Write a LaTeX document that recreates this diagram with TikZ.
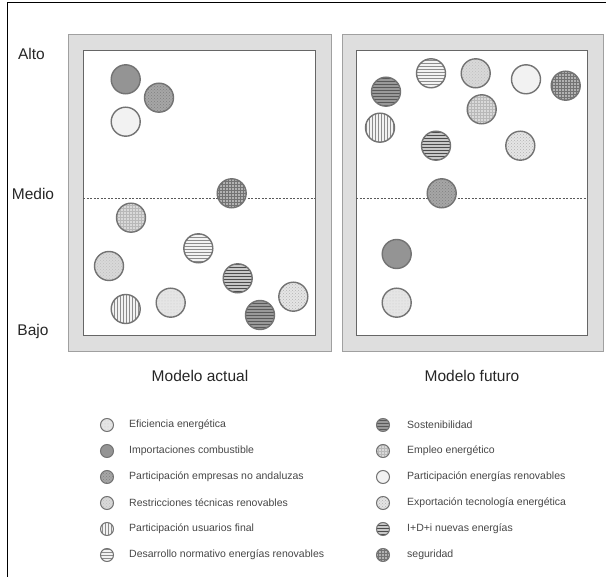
\documentclass[tikz,border=0pt]{standalone}
\usepackage{fontspec}
\setmainfont{Liberation Sans}
\usepackage{tikz}
\usetikzlibrary{patterns, positioning}
\definecolor{panelgris}{RGB}{222,222,222}
\definecolor{bordegris}{RGB}{160,160,160}
\definecolor{textogris}{RGB}{70,70,70}

\begin{document}
\begin{tikzpicture}[x=1pt, y=-1pt,
    bola/.style={circle, draw=black!55, line width=1.4pt, minimum size=29pt, inner sep=0pt},
    mini/.style={minimum size=13pt, line width=1pt},
    eficiencia/.style={preaction={fill=black!10}, pattern=dots, pattern color=black!22},
    importaciones/.style={fill=black!42},
    empresas/.style={preaction={fill=black!35}, pattern=crosshatch dots, pattern color=black!50},
    restricciones/.style={preaction={fill=black!15}, pattern=crosshatch dots, pattern color=black!25},
    usuarios/.style={preaction={fill=black!5}, pattern=vertical lines, pattern color=black!45},
    normativo/.style={preaction={fill=black!5}, pattern=horizontal lines, pattern color=black!45},
    sostenibilidad/.style={preaction={fill=black!40}, pattern=horizontal lines, pattern color=black!65},
    empleo/.style={preaction={fill=black!15}, pattern=grid, pattern color=black!28},
    renovables/.style={fill=black!5},
    exportacion/.style={preaction={fill=black!10}, pattern=crosshatch dots, pattern color=black!30},
    idi/.style={preaction={fill=black!22}, pattern=horizontal lines, pattern color=black!70},
    seguridad/.style={preaction={fill=black!30}, pattern=grid, pattern color=black!55},
    eje/.style={font=\fontsize{15.5}{18}\selectfont, text=black!85},
    leyenda/.style={font=\fontsize{10.5}{12}\selectfont, text=textogris, inner sep=0pt, anchor=west}]

    \useasboundingbox (0,0) rectangle (606,577);

    % Outer frame
    \draw[line width=1pt] (7,577) -- (7,3) -- (606,3);

    % The two panels
    \foreach \xa/\xb/\xc/\xd in {68/331/83/315, 342/603/356/587} {
        \draw[fill=panelgris, draw=bordegris, line width=1pt] (\xa,35) rectangle (\xb,352);
        \draw[fill=white, draw=black!60, line width=1pt] (\xc,51) rectangle (\xd,336);
        \draw[black!65, dash pattern=on 2pt off 1.5pt] (\xc,198) -- (\xd,198);
    }

    % Level labels
    \node[eje] (alto) at (31.5,54) {Alto};
    \node[eje] (medio) at (33,194) {Medio};
    \node[eje] (bajo) at (33,331) {Bajo};
    \node[eje] (actual) at (200,376) {Modelo actual};
    \node[eje] (futuro) at (472,376) {Modelo futuro};

    % Modelo actual
    \foreach \n/\x/\y/\s in {1/125.7/79.3/importaciones, 2/159/97.7/empresas,
        3/125.7/121.7/renovables, 4/231.7/193.3/seguridad, 5/131/217.7/empleo,
        6/198.3/248.3/normativo, 7/109/266/restricciones, 8/237.7/278.3/idi,
        9/125.7/309/usuarios, 10/170.7/302.7/eficiencia, 11/260/315/sostenibilidad,
        12/293.3/296.7/exportacion} {
        \node[bola, \s] (act\n) at (\x,\y) {};
    }

    % Modelo futuro
    \foreach \n/\x/\y/\s in {1/386/91.7/sostenibilidad, 2/431/73.3/normativo,
        3/475.7/73.3/restricciones, 4/526/79.3/renovables, 5/565.7/85.7/seguridad,
        6/481.7/109.3/empleo, 7/380/127.7/usuarios, 8/436/145.7/idi,
        9/520.3/145.7/exportacion, 10/441.7/193.3/empresas, 11/396.7/254/importaciones,
        12/396.7/302.7/eficiencia} {
        \node[bola, \s] (fut\n) at (\x,\y) {};
    }

    % Legend
    \foreach \n/\y/\s/\t in {1/425/eficiencia/{Eficiencia energética},
        2/451/importaciones/{Importaciones combustible},
        3/477/empresas/{Participación empresas no andaluzas},
        4/503/restricciones/{Restricciones técnicas renovables},
        5/529/usuarios/{Participación usuarios final},
        6/555/normativo/{Desarrollo normativo energías renovables}} {
        \node[bola, mini, \s] (leyA\n) at (107,\y) {};
        \node[leyenda, right=15pt of leyA\n] {\t};
    }
    \foreach \n/\y/\s/\t in {1/425/sostenibilidad/{Sostenibilidad},
        2/451/empleo/{Empleo energético},
        3/477/renovables/{Participación energías renovables},
        4/503/exportacion/{Exportación tecnología energética},
        5/529/idi/{I+D+i nuevas energías},
        6/555/seguridad/{seguridad}} {
        \node[bola, mini, \s] (leyB\n) at (383,\y) {};
        \node[leyenda, right=17pt of leyB\n] {\t};
    }
\end{tikzpicture}
\end{document}
